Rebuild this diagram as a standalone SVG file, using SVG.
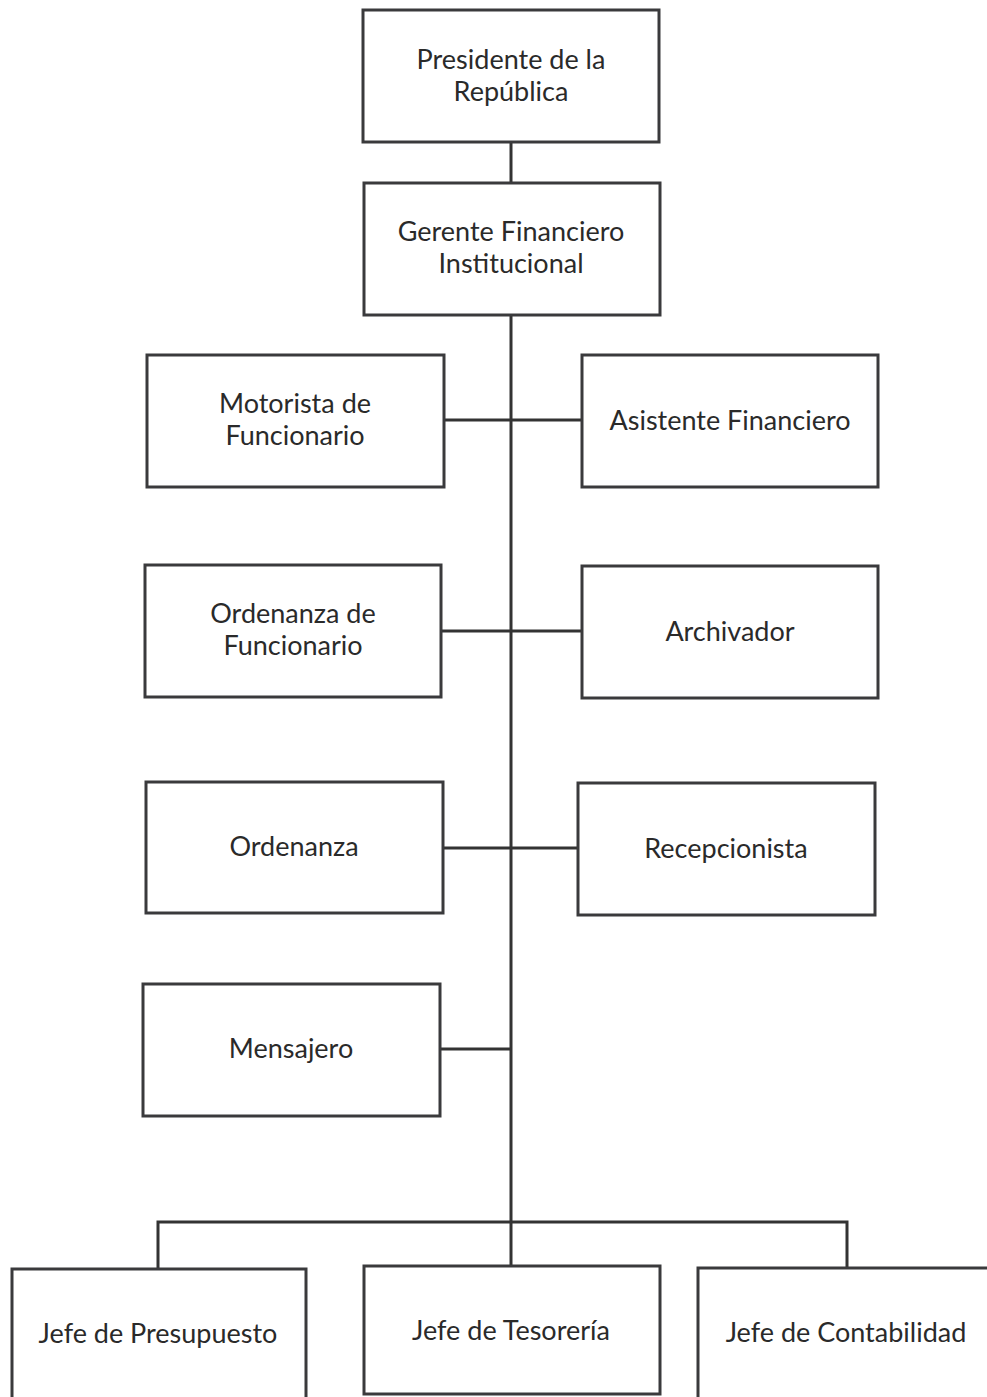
<svg xmlns="http://www.w3.org/2000/svg" width="987" height="1397" viewBox="0 0 987 1397">
<style>
.box{fill:#fff;stroke:#3a3a3c;stroke-width:3}
.t{font-family:Lato,"Open Sans","Liberation Sans",sans-serif;font-size:27px;fill:#2a2a2a;text-anchor:middle}
.c{fill:none;stroke:#333;stroke-width:3}
</style>
<rect width="987" height="1397" fill="#fff"/>
<g id="connectors">
<line class="c" x1="511" y1="142" x2="511" y2="182"/>
<line class="c" x1="511" y1="315" x2="511" y2="1222"/>
<line class="c" x1="444" y1="420" x2="581" y2="420"/>
<line class="c" x1="441" y1="631" x2="581" y2="631"/>
<line class="c" x1="443" y1="848" x2="577" y2="848"/>
<line class="c" x1="440" y1="1049" x2="511" y2="1049"/>
<polyline class="c" points="158,1268 158,1222 847,1222 847,1267"/>
<line class="c" x1="511" y1="1222" x2="511" y2="1265"/>
</g>
<g id="presidente"><rect class="box" x="363" y="10" width="296" height="132"/><text class="t" x="511" y="69">Presidente de la</text><text class="t" x="511" y="101">República</text></g>
<g id="gerente"><rect class="box" x="364" y="183" width="296" height="132"/><text class="t" x="511" y="241">Gerente Financiero</text><text class="t" x="511" y="273">Institucional</text></g>
<g id="motorista"><rect class="box" x="147" y="355" width="297" height="132"/><text class="t" x="295" y="413">Motorista de</text><text class="t" x="295" y="445">Funcionario</text></g>
<g id="asistente"><rect class="box" x="582" y="355" width="296" height="132"/><text class="t" x="730" y="430">Asistente Financiero</text></g>
<g id="ordenanza-funcionario"><rect class="box" x="145" y="565" width="296" height="132"/><text class="t" x="293" y="623">Ordenanza de</text><text class="t" x="293" y="655">Funcionario</text></g>
<g id="archivador"><rect class="box" x="582" y="566" width="296" height="132"/><text class="t" x="730" y="641">Archivador</text></g>
<g id="ordenanza"><rect class="box" x="146" y="782" width="297" height="131"/><text class="t" x="294" y="856">Ordenanza</text></g>
<g id="recepcionista"><rect class="box" x="578" y="783" width="297" height="132"/><text class="t" x="726" y="858">Recepcionista</text></g>
<g id="mensajero"><rect class="box" x="143" y="984" width="297" height="132"/><text class="t" x="291" y="1058">Mensajero</text></g>
<g id="jefe-presupuesto"><rect class="box" x="12" y="1269" width="294" height="140"/><text class="t" x="158" y="1343">Jefe de Presupuesto</text></g>
<g id="jefe-tesoreria"><rect class="box" x="364" y="1266" width="296" height="128"/><text class="t" x="511" y="1340">Jefe de Tesorería</text></g>
<g id="jefe-contabilidad"><rect class="box" x="698" y="1268" width="300" height="140"/><text class="t" x="846" y="1342">Jefe de Contabilidad</text></g>
</svg>
